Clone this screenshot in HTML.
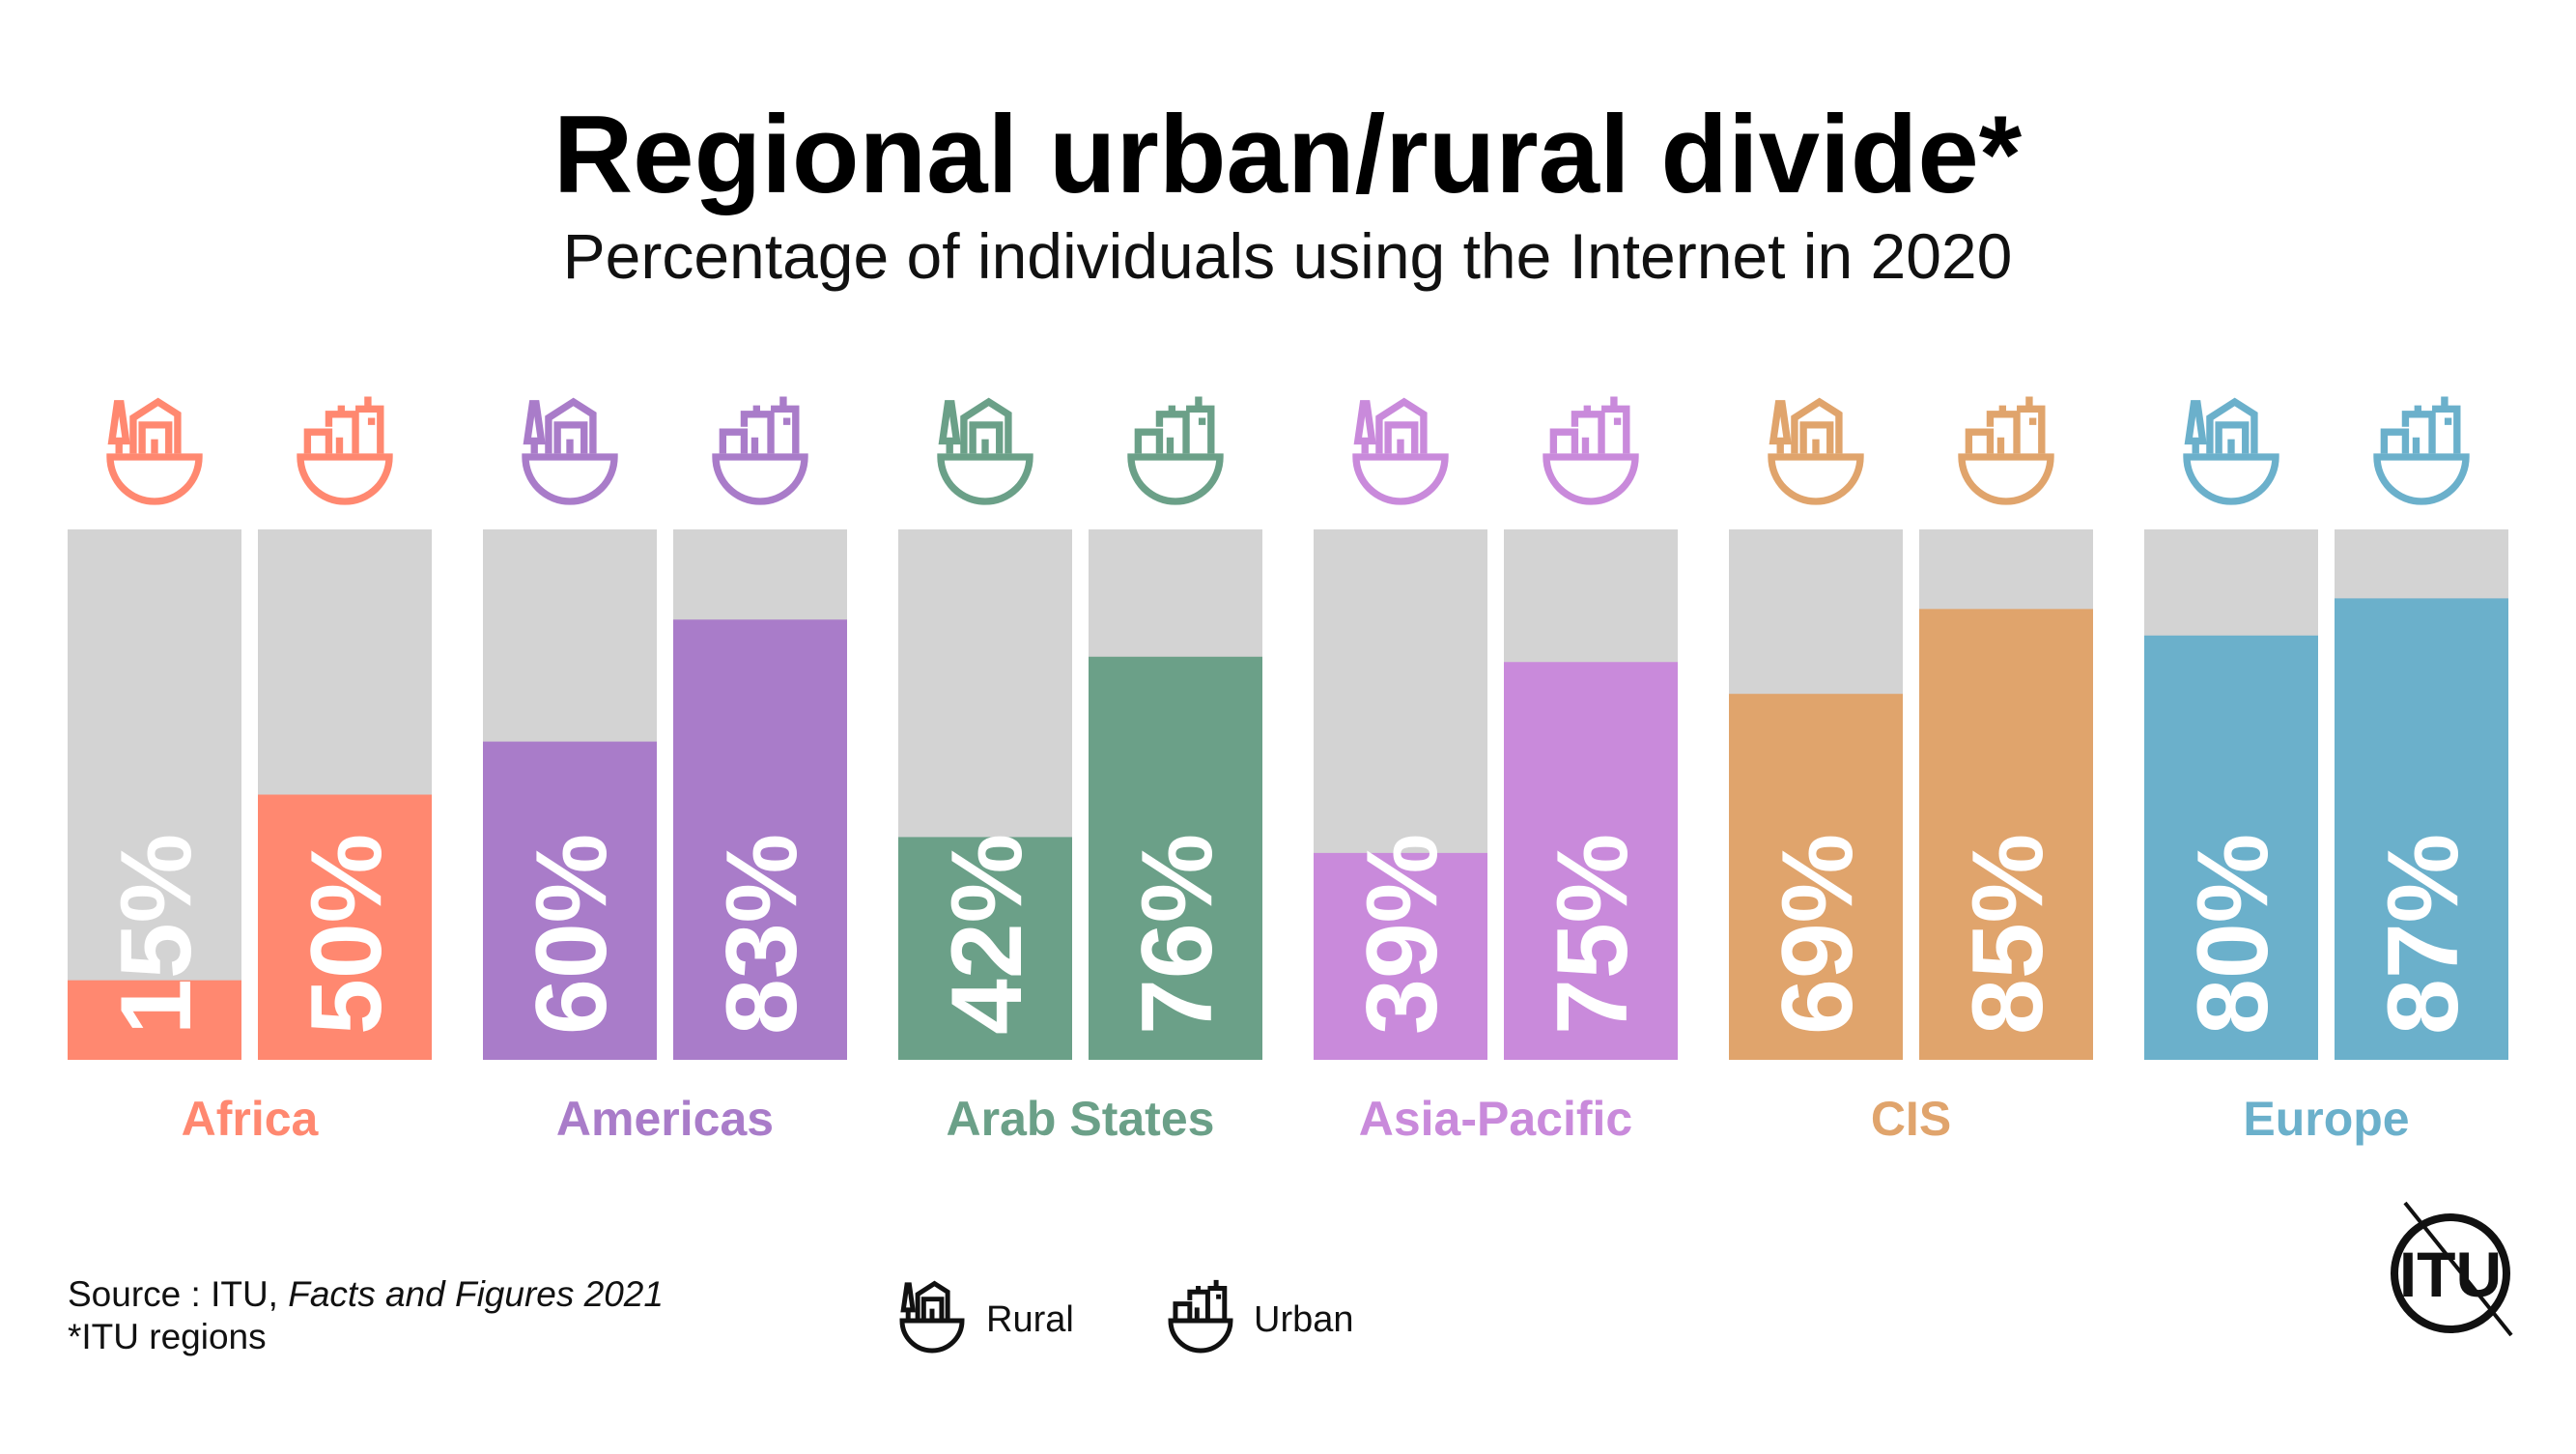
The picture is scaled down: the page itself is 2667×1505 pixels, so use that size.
<!DOCTYPE html>
<html><head><meta charset="utf-8"><style>
html,body{margin:0;padding:0;background:#fff;}
svg text{font-family:"Liberation Sans",sans-serif;}
</style></head><body>
<svg id="c" width="2667" height="1500" viewBox="0 0 2667 1500" xmlns="http://www.w3.org/2000/svg">
<text x="1333" y="199" text-anchor="middle" font-size="114" font-weight="bold" fill="#000">Regional urban/rural divide*</text>
<text x="1333" y="288" text-anchor="middle" font-size="66" fill="#111">Percentage of individuals using the Internet in 2020</text>
<text x="70" y="1352" font-size="37" fill="#111">Source : ITU, <tspan font-style="italic">Facts and Figures 2021</tspan></text>
<text x="70" y="1396" font-size="37" fill="#111">*ITU regions</text>
<g id="legend"></g>
<g>
<circle cx="2537" cy="1318" r="58" fill="none" stroke="#111" stroke-width="8"/>
<line x1="2490" y1="1245" x2="2600" y2="1382" stroke="#111" stroke-width="4"/>
<text x="2537" y="1342" text-anchor="middle" font-size="66" font-weight="bold" fill="#111">ITU</text>
</g>
<g id="bars"></g>
</svg>
<script>
const regions = ["Africa","Americas","Arab States","Asia-Pacific","CIS","Europe"];
const rural = [15,60,42,39,69,80];
const urban = [50,83,76,75,85,87];
const colors = ["#FF8870","#A97CC9","#6BA088","#C98ADB","#E0A46C","#6BB0CB"];
const NS="http://www.w3.org/2000/svg";
const top0=548, bottom0=1097, H=bottom0-top0;
const x0=70, pitch=430, bw=180, off=197;
function y(v){return bottom0 - v/100*H;}
function mk(tag,attrs,parent){const e=document.createElementNS(NS,tag);for(const k in attrs)e.setAttribute(k,attrs[k]);parent.appendChild(e);return e;}
function icon(parent,cx,cy,s,col,type){
  const g=mk('g',{transform:`translate(${cx},${cy}) scale(${s})`,fill:'none',stroke:col,'stroke-width':8,'stroke-linejoin':'miter'},parent);
  mk('path',{d:'M-50,0 A50,50 0 0 0 50,0 Z'},g);
  if(type==='rural'){
    mk('path',{d:'M-40,-4 L-40,-18 M-48,-18 L-32,-18 L-38,-60 L-42,-60 Z'},g);
    mk('path',{d:'M-24,-4 L-24,-44 L4,-62 L26,-48 L26,-4 M-14,-4 L-14,-36 L16,-36 L16,-4 M0,-4 L0,-20'},g);
  } else {
    mk('path',{d:'M-42,-4 L-42,-28 L-18,-28 L-18,-4 M-18,-34 L-18,-48 L12,-48 L12,-4 M-6,-4 L-6,-22 M12,-54 L40,-54 L40,-4 M26,-40 L34,-40 M26,-68 L26,-54 M-4,-58 L-4,-48'},g);
  }
  return g;
}
const bars=document.getElementById('bars');
regions.forEach((r,i)=>{
  const gx=x0+i*pitch;
  [[rural[i],'rural',gx],[urban[i],'urban',gx+off]].forEach(([v,t,bx])=>{
    const bg=mk('rect',{x:bx,y:top0,width:bw,height:H,fill:'#D3D3D3'},bars);
    
    
    const b=mk('rect',{x:bx,y:y(v),width:bw,height:bottom0-y(v),fill:colors[i]},bars);
    
    
    const tx=bx+bw/2+37, ty=bottom0-26;
    const lbl=mk('text',{x:tx,y:ty,transform:`rotate(-90 ${tx} ${ty})`,'font-size':104,'font-weight':'bold',fill:'#fff'},bars);
    lbl.textContent=v+'%';
    
    
    const ic=icon(bars,bx+bw/2,473,0.92,colors[i],t);
    
    
  });
  const rl=mk('text',{x:gx+(off+bw)/2,y:1175,'text-anchor':'middle','font-size':50,'font-weight':'bold',fill:colors[i]},bars);
  rl.textContent=r;
  
  
});
const lg=document.getElementById('legend');
const i1=icon(lg,965,1367,0.62,'#111','rural');


const t1=mk('text',{x:1021,y:1378,'font-size':38,fill:'#111'},lg);t1.textContent='Rural';


const i2=icon(lg,1243,1367,0.62,'#111','urban');


const t2=mk('text',{x:1298,y:1378,'font-size':38,fill:'#111'},lg);t2.textContent='Urban';


</script>
</body></html>
